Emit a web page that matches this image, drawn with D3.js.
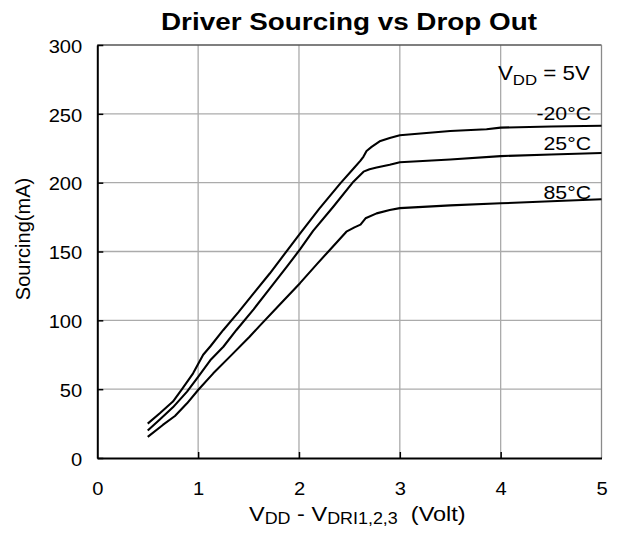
<!DOCTYPE html>
<html>
<head>
<meta charset="utf-8">
<script src="https://cdn.jsdelivr.net/npm/d3@7"></script>
<style>
html,body{margin:0;padding:0;background:#fff;}
svg{display:block;font-family:"Liberation Sans",Arial,sans-serif;}
</style>
</head>
<body>
<svg id="chart" width="620" height="534"></svg>
<script>
// ---- data ----
const xTicks = [0, 1, 2, 3, 4, 5];
const yTicks = [0, 50, 100, 150, 200, 250, 300];
const seriesNames = ["-20°C", "25°C", "85°C"];

const voltM20 = [0.5,0.62,0.75,0.84,0.95,1.05,1.12,1.25,1.40,1.55,1.71,2.01,2.20,2.41,2.55,2.61,2.64,2.67,2.72,2.80,2.90,3.0,3.5,3.86,4.0,4.5,5.0];
const srcM20  = [25,32.5,41,50,61.5,75,81,93,106,119.6,134,163,181,199.5,211,216,219,223,226,230,232.5,234.5,237.5,238.8,240,240.8,241.3];

const volt25 = [0.5,0.62,0.75,0.89,1.0,1.12,1.25,1.38,1.55,1.71,1.88,2.01,2.14,2.34,2.54,2.64,2.70,2.77,2.9,3.0,3.5,4.0,4.5,5.0];
const src25  = [20,28,36.8,48.2,59,71,80.8,93,108,123,139,151.5,165,182.5,200.7,208,209.8,211,213,214.8,216.8,219.3,220.5,221.5];

const volt85 = [0.5,0.65,0.77,0.89,1.0,1.15,1.32,1.51,1.61,1.81,2.01,2.18,2.31,2.47,2.55,2.61,2.66,2.77,2.9,3.0,3.5,4.0,4.5,5.0];
const src85  = [15.3,24,30.5,39.7,49.4,61.5,74,88.1,96,111.5,127,141,151.5,164.4,167.5,169.5,174.1,177.7,180.2,181.5,183.5,185,186.5,187.9];

const seriesVolts = [voltM20, volt25, volt85];
const seriesSrc = [srcM20, src25, src85];

// ---- layout ----
const svg = d3.select("#chart");
const L = 97.3, R = 601.5, T = 45, B = 458;
const SX = 1.12; // horizontal stretch of text
const x = d3.scaleLinear().domain([0, 5]).range([L, R]);
const y = d3.scaleLinear().domain([0, 300]).range([B, T]);

// gridlines
svg.append("g").selectAll("line").data(xTicks.filter(d => d > 0 && d < 5)).join("line")
  .attr("x1", d => x(d)).attr("x2", d => x(d)).attr("y1", T).attr("y2", B)
  .attr("stroke", "#ababab").attr("stroke-width", 1.3);
svg.append("g").selectAll("line").data(yTicks.filter(d => d > 0 && d < 300)).join("line")
  .attr("x1", L).attr("x2", R).attr("y1", d => y(d)).attr("y2", d => y(d))
  .attr("stroke", "#ababab").attr("stroke-width", 1.3);
// top & right border
svg.append("line").attr("x1", L).attr("x2", R).attr("y1", T).attr("y2", T)
  .attr("stroke", "#555").attr("stroke-width", 1.3);
svg.append("line").attr("x1", R).attr("x2", R).attr("y1", T).attr("y2", B)
  .attr("stroke", "#8a8a8a").attr("stroke-width", 1.3);

// axes
const yAxis = svg.append("g").attr("transform", `translate(${L},0)`)
  .call(d3.axisLeft(y).tickValues(yTicks).tickFormat(d3.format("d")).tickSizeInner(-6).tickSizeOuter(0).tickPadding(15));
const xAxis = svg.append("g").attr("transform", `translate(0,${B})`)
  .call(d3.axisBottom(x).tickValues(xTicks).tickFormat(d3.format("d")).tickSizeInner(-6).tickSizeOuter(0));
[yAxis, xAxis].forEach(a => {
  a.select(".domain").attr("stroke", "#000").attr("stroke-width", 2);
  a.selectAll(".tick line").attr("stroke", "#000").attr("stroke-width", 1.5);
  a.selectAll(".tick text").attr("fill", "#000").attr("font-size", 18)
    .attr("font-family", "Liberation Sans, Arial, sans-serif");
});
yAxis.selectAll(".tick text").attr("x", -15 / SX).attr("dy", "0.4em").attr("transform", `scale(${SX},1)`);
xAxis.selectAll(".tick text").attr("y", 37.5).attr("dy", 0).attr("transform", `scale(${SX},1)`);
xAxis.selectAll(".tick").filter(d => d === 0 || d === 5).select("line").remove();

// curves
const line = d3.line().x(d => x(d[0])).y(d => y(d[1]));
seriesVolts.forEach((vs, k) => {
  const pts = vs.map((v, i) => [v, seriesSrc[k][i]]);
  svg.append("path").datum(pts).attr("d", line)
    .attr("fill", "none").attr("stroke", "#000").attr("stroke-width", 2.1)
    .attr("stroke-linejoin", "round");
});

// text helper
function txt(px, py, size, anchor, weight) {
  return svg.append("text")
    .attr("transform", `translate(${px},${py}) scale(${SX},1)`)
    .attr("font-size", size).attr("text-anchor", anchor)
    .attr("font-weight", weight || "normal").attr("fill", "#000");
}

// series labels
const labelY = [120, 149.5, 199.3];
seriesNames.forEach((n, i) => { txt(591, labelY[i], 19, "end").text(n); });

// VDD label
const vdd = txt(590, 79.5, 20, "end");
vdd.append("tspan").text("V");
vdd.append("tspan").attr("font-size", 15).attr("dy", 5).text("DD");
vdd.append("tspan").attr("dy", -5).text(" = 5V");

// title
svg.append("text").attr("x", 349).attr("y", 30).attr("text-anchor", "middle")
  .attr("font-size", 23.5).attr("font-weight", "bold").attr("fill", "#000")
  .attr("textLength", 376).attr("lengthAdjust", "spacingAndGlyphs")
  .text("Driver Sourcing vs Drop Out");

// x-axis title
const xt = txt(249, 520.5, 21, "start");
xt.append("tspan").text("V");
xt.append("tspan").attr("font-size", 16).attr("dy", 3.5).text("DD");
xt.append("tspan").attr("dy", -3.5).text(" - V");
xt.append("tspan").attr("font-size", 16).attr("dy", 3.5).text("DRI1,2,3");
xt.append("tspan").attr("dy", -3.5).text("  (Volt)").attr("xml:space", "preserve");

// y-axis title
svg.append("text").attr("transform", "translate(30,239) rotate(-90)")
  .attr("text-anchor", "middle").attr("font-size", 20).attr("fill", "#000")
  .text("Sourcing(mA)");
</script>
</body>
</html>
